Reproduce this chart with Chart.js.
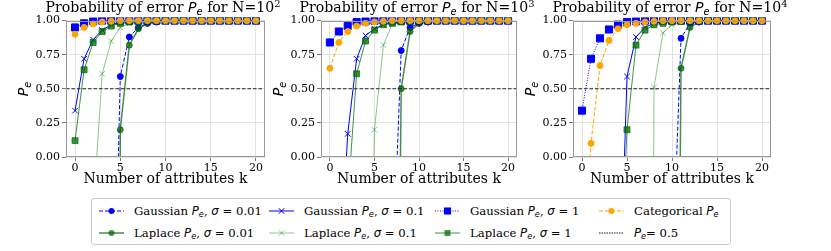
<!DOCTYPE html>
<html>
<head>
<meta charset="utf-8">
<script src="https://cdn.jsdelivr.net/npm/chart.js@4.4.0/dist/chart.umd.min.js"></script>
<style>
body{margin:0;width:831px;height:251px;background:#fff;position:relative;overflow:hidden;font-family:"DejaVu Serif",serif;color:#000}
canvas{position:absolute}
.title{position:absolute;top:-1px;font-size:14.1px;white-space:nowrap;transform:translateX(-50%)}
.ylab{position:absolute;top:89px;font-size:14px;white-space:nowrap;transform:translate(-50%,-50%) rotate(-90deg)}
.m{font-family:"DejaVu Sans",sans-serif;font-style:italic}
sub{font-size:0.7em;vertical-align:-0.3em;line-height:0}
sup{font-size:0.7em;vertical-align:0.5em;line-height:0}
#legend{position:absolute;left:91px;top:198px;width:638px;height:45px;border:1px solid #ccc;border-radius:3px}
.item{position:absolute;font-size:11.7px;white-space:nowrap;transform:translateY(-50%)}
.item svg{position:absolute;top:50%;transform:translateY(-50%)}
</style>
</head>
<body>
<canvas id="c1" width="250" height="176" style="left:21px;top:12px"></canvas>
<canvas id="c2" width="247" height="176" style="left:276px;top:12px"></canvas>
<canvas id="c3" width="249" height="176" style="left:528px;top:12px"></canvas>

<div class="title" style="left:163px">Probability of error <span class="m">P<sub>e</sub></span> for N=10<sup>2</sup></div>
<div class="title" style="left:417px">Probability of error <span class="m">P<sub>e</sub></span> for N=10<sup>3</sup></div>
<div class="title" style="left:670px">Probability of error <span class="m">P<sub>e</sub></span> for N=10<sup>4</sup></div>
<div class="ylab" style="left:23px"><span class="m">P<sub>e</sub></span></div>
<div class="ylab" style="left:278px"><span class="m">P<sub>e</sub></span></div>
<div class="ylab" style="left:530px"><span class="m">P<sub>e</sub></span></div>

<div id="legend"></div>

<script>
const kValues = [0,1,2,3,4,5,6,7,8,9,10,11,12,13,14,15,16,17,18,19,20]
const xTicks = [0,5,10,15,20]
const yTicks = [0,0.25,0.5,0.75,1]
const refLevel = 0.5

// N = 10^2
const N2_gauss001 = [null,null,null,null,-2.2,0.59,0.88,0.95,0.98,0.99,1,1,1,1,1,1,1,1,1,1,1]
const N2_lap001   = [null,null,null,null,-20,0.20,0.82,0.94,0.98,0.99,1,1,1,1,1,1,1,1,1,1,1]
const N2_gauss01  = [0.34,0.72,0.86,0.93,0.97,0.985,0.995,1,1,1,1,1,1,1,1,1,1,1,1,1,1]
const N2_lap01    = [null,null,-0.4,0.61,0.85,0.95,0.98,0.99,0.995,1,1,1,1,1,1,1,1,1,1,1,1]
const N2_gauss1   = [0.95,0.98,0.995,1,1,1,1,1,1,1,1,1,1,1,1,1,1,1,1,1,1]
const N2_lap1     = [0.12,0.64,0.84,0.92,0.96,0.98,0.99,0.995,1,1,1,1,1,1,1,1,1,1,1,1,1]
const N2_cat      = [0.90,0.95,0.975,0.99,0.995,1,1,1,1,1,1,1,1,1,1,1,1,1,1,1,1]

// N = 10^3
const N3_gauss001 = [null,null,null,null,null,null,null,-0.95,0.78,0.95,0.98,0.99,1,1,1,1,1,1,1,1,1]
const N3_lap001   = [null,null,null,null,null,null,null,-5.8,0.50,0.92,0.98,0.99,1,1,1,1,1,1,1,1,1]
const N3_gauss01  = [null,-1.0,0.17,0.72,0.89,0.94,0.97,0.985,0.99,0.995,1,1,1,1,1,1,1,1,1,1,1]
const N3_lap01    = [null,null,null,null,-3,0.20,0.82,0.975,0.985,0.99,1,1,1,1,1,1,1,1,1,1,1]
const N3_gauss1   = [0.84,0.92,0.96,0.99,0.995,1,1,1,1,1,1,1,1,1,1,1,1,1,1,1,1]
const N3_lap1     = [null,null,-0.31,0.61,0.85,0.93,0.97,0.98,0.99,0.995,1,1,1,1,1,1,1,1,1,1,1]
const N3_cat      = [0.65,0.84,0.92,0.96,0.98,0.99,0.995,1,1,1,1,1,1,1,1,1,1,1,1,1,1]

// N = 10^4
const N4_gauss001 = [null,null,null,null,null,null,null,null,null,null,-0.95,0.87,0.98,0.99,1,1,1,1,1,1,1]
const N4_lap001   = [null,null,null,null,null,null,null,null,null,null,-7.5,0.65,0.95,0.99,1,1,1,1,1,1,1]
const N4_gauss01  = [null,null,null,null,-1.5,0.59,0.88,0.95,0.98,0.99,0.995,1,1,1,1,1,1,1,1,1,1]
const N4_lap01    = [null,null,null,null,null,null,null,-15,0.51,0.91,0.97,0.99,1,1,1,1,1,1,1,1,1]
const N4_gauss1   = [0.34,0.72,0.87,0.935,0.97,0.99,0.995,1,1,1,1,1,1,1,1,1,1,1,1,1,1]
const N4_lap1     = [null,null,null,null,-1.3,0.20,0.82,0.93,0.97,0.98,0.99,0.995,1,1,1,1,1,1,1,1,1]
const N4_cat      = [-0.8,0.10,0.67,0.855,0.94,0.97,0.98,0.99,0.995,1,1,1,1,1,1,1,1,1,1,1,1]

const blue = '#0000ff'
const serif = "'DejaVu Serif', 'Liberation Serif', serif"
const styles = [
  {color:blue, dash:[4,2], point:'circle', r:3, w:1},
  {color:'rgba(0,100,0,0.72)', dash:[], point:'circle', r:3, w:1.5},
  {color:blue, dash:[], point:'crossRot', r:4, w:1},
  {color:'rgba(0,128,0,0.45)', dash:[], point:'crossRot', r:4, w:1},
  {color:blue, dash:[1,1.5], point:'rect', r:5, w:1},
  {color:'rgba(0,110,0,0.75)', dash:[], point:'rect', r:4.2, w:1},
  {color:'#ffa500', dash:[4,2], point:'circle', r:3, w:1},
]

function toPoints(arr){
  return arr.map((v,i)=>({x:kValues[i], y:v}))
}

const boxPlugin = {
  id:'box',
  afterDraw(chart){
    const a = chart.chartArea, ctx = chart.ctx
    ctx.save()
    ctx.strokeStyle = '#999'
    ctx.lineWidth = 1
    ctx.strokeRect(Math.round(a.left)+0.5, Math.round(a.top)+0.5, Math.round(a.right-a.left)-1, Math.round(a.bottom-a.top)-1)
    ctx.restore()
  }
}

function makePanel(id, series){
  const datasets = series.map((arr,i)=>{
    const s = styles[i]
    return {
      data: toPoints(arr),
      borderColor: s.color,
      backgroundColor: s.color,
      borderWidth: s.w,
      borderDash: s.dash,
      pointStyle: s.point,
      pointRadius: s.r,
      pointBorderWidth: 1,
      pointBorderColor: s.color,
      pointBackgroundColor: s.color,
      tension: 0,
      spanGaps: false,
      order: 20 - i,
      clip: {left:8, top:3, right:8, bottom:0}
    }
  })
  datasets.push({
    data: [{x:-1, y:refLevel},{x:21, y:refLevel}],
    borderColor: '#222',
    borderWidth: 1.1,
    borderDash: [3.5,2],
    pointRadius: 0,
    order: 0
  })
  new Chart(document.getElementById(id), {
    type:'line',
    data:{datasets},
    plugins:[boxPlugin],
    options:{
      responsive:false,
      animation:false,
      devicePixelRatio:1,
      layout:{padding:{left:0, right:6, top:8, bottom:0}},
      plugins:{legend:{display:false}, tooltip:{enabled:false}},
      scales:{
        x:{
          type:'linear', min:-1, max:21,
          afterBuildTicks: s => { s.ticks = xTicks.map(v=>({value:v})) },
          afterFit: s => { s.height = 31 },
          ticks:{font:{family:serif, size:11}, color:'#000', padding:1, maxRotation:0},
          grid:{color:'#dcdcdc', lineWidth:0.8, tickLength:4, tickColor:'#555'},
          border:{display:false},
          title:{display:true, text:'Number of attributes k', font:{family:serif, size:14}, color:'#000', padding:0}
        },
        y:{
          min:0, max:1,
          afterBuildTicks: s => { s.ticks = yTicks.map(v=>({value:v})) },
          afterFit: s => { s.width = 45 },
          ticks:{font:{family:serif, size:11}, color:'#000', padding:2, callback: v => v.toFixed(2)},
          grid:{color:'#dcdcdc', lineWidth:0.8, tickLength:4, tickColor:'#555'},
          border:{display:false}
        }
      }
    }
  })
}

makePanel('c1', [N2_gauss001,N2_lap001,N2_gauss01,N2_lap01,N2_gauss1,N2_lap1,N2_cat])
makePanel('c2', [N3_gauss001,N3_lap001,N3_gauss01,N3_lap01,N3_gauss1,N3_lap1,N3_cat])
makePanel('c3', [N4_gauss001,N4_lap001,N4_gauss01,N4_lap01,N4_gauss1,N4_lap1,N4_cat])

// legend, column-major like matplotlib
const legendItems = [
  {s:0, col:0, row:0, html:'Gaussian <span class="m">P<sub>e</sub></span>, <span class="m">σ</span> = 0.01'},
  {s:1, col:0, row:1, html:'Laplace <span class="m">P<sub>e</sub></span>, <span class="m">σ</span> = 0.01'},
  {s:2, col:1, row:0, html:'Gaussian <span class="m">P<sub>e</sub></span>, <span class="m">σ</span> = 0.1'},
  {s:3, col:1, row:1, html:'Laplace <span class="m">P<sub>e</sub></span>, <span class="m">σ</span> = 0.1'},
  {s:4, col:2, row:0, html:'Gaussian <span class="m">P<sub>e</sub></span>, <span class="m">σ</span> = 1'},
  {s:5, col:2, row:1, html:'Laplace <span class="m">P<sub>e</sub></span>, <span class="m">σ</span> = 1'},
  {s:6, col:3, row:0, html:'Categorical <span class="m">P<sub>e</sub></span>'},
  {s:-1, col:3, row:1, html:'<span class="m">P<sub>e</sub></span>= 0.5'},
]
const colText = [42, 212, 378, 542]
const rowY = [12, 34]
const legend = document.getElementById('legend')
legendItems.forEach(it=>{
  const d = document.createElement('div')
  d.className = 'item'
  d.style.left = colText[it.col] + 'px'
  d.style.top = rowY[it.row] + 'px'
  let svg
  if (it.s < 0) {
    svg = `<svg width="26" height="10" style="left:-35px"><line x1="0" y1="5" x2="25" y2="5" stroke="#222" stroke-width="1" stroke-dasharray="1.5,1"/></svg>`
  } else {
    const s = styles[it.s]
    let mark = ''
    if (s.point === 'circle') mark = `<circle cx="12.5" cy="5" r="${s.r}" fill="${s.color}"/>`
    else if (s.point === 'rect') { const h = s.r*0.707; mark = `<rect x="${12.5-h}" y="${5-h}" width="${2*h}" height="${2*h}" fill="${s.color}"/>` }
    else { const h = s.r*0.707; mark = `<path d="M${12.5-h} ${5-h}L${12.5+h} ${5+h}M${12.5-h} ${5+h}L${12.5+h} ${5-h}" stroke="${s.color}" stroke-width="1"/>` }
    svg = `<svg width="26" height="10" style="left:-35px"><line x1="0" y1="5" x2="25" y2="5" stroke="${s.color}" stroke-width="${s.w}" stroke-dasharray="${s.dash.join(',')}"/>${mark}</svg>`
  }
  d.innerHTML = svg + it.html
  legend.appendChild(d)
})
</script>
</body>
</html>
